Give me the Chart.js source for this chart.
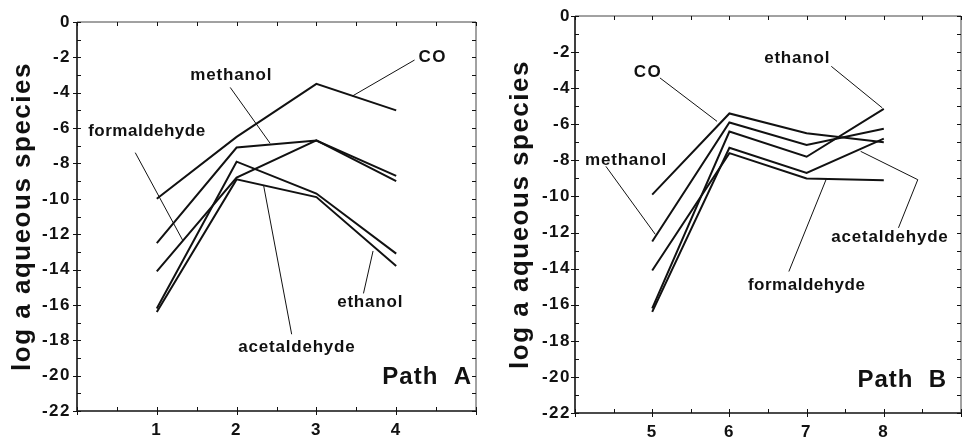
<!DOCTYPE html>
<html>
<head>
<meta charset="utf-8">
<script src="https://cdn.jsdelivr.net/npm/chart.js@4/dist/chart.umd.min.js"></script>
<style>
  html, body { margin: 0; padding: 0; background: #fff; }
  #wrap { position: relative; width: 970px; height: 440px; }
  .panel { position: absolute; top: 0; height: 440px; }
  #pathA { left: 0; width: 485px; }
  #pathB { left: 490px; width: 480px; }
</style>
</head>
<body>
<div id="wrap">
  <div class="panel" id="pathA"><canvas id="cA"></canvas></div>
  <div class="panel" id="pathB"><canvas id="cB"></canvas></div>
</div>
<script>
// Reaction path steps
const stepsA = [1, 2, 3, 4];
const stepsB = [5, 6, 7, 8];

// log activity of aqueous species along Path A
const coA           = [-10.0, -6.5, -3.5, -5.0];
const methanolA     = [-12.5, -7.1, -6.7, -8.7];
const formaldehydeA = [-14.1, -8.8, -6.7, -9.0];
const ethanolA      = [-16.2, -7.9, -9.7, -13.1];
const acetaldehydeA = [-16.4, -8.9, -9.9, -13.8];

// log activity of aqueous species along Path B
const coB           = [-9.9, -5.4, -6.5, -7.0];
const methanolB     = [-12.5, -5.9, -7.15, -6.25];
const formaldehydeB = [-14.1, -7.6, -9.0, -9.1];
const ethanolB      = [-16.2, -6.4, -7.8, -5.15];
const acetaldehydeB = [-16.4, -7.3, -8.7, -6.8];

// Axis tick labels
const yTickValues = [0, -2, -4, -6, -8, -10, -12, -14, -16, -18, -20, -22];
const xTicksA = ['1', '2', '3', '4'];
const xTicksB = ['5', '6', '7', '8'];

const FONT = '"Liberation Sans", Arial, Helvetica, sans-serif';
const INK = '#111';

function toPoints(xs, ys) { return xs.map((x, i) => ({ x: x, y: ys[i] })); }

function series(name, xs, ys) {
  return {
    label: name,
    data: toPoints(xs, ys),
    borderColor: INK,
    borderWidth: 2,
    pointRadius: 0,
    tension: 0,
    fill: false
  };
}

// Slightly spaced lettering for the axis text
const spacing = {
  id: 'spacing',
  beforeDraw(chart) {
    if ('letterSpacing' in chart.ctx) chart.ctx.letterSpacing = '1.5px';
  }
};

// Frame with inward ticks on all four sides, leader lines and labels
const decorations = {
  id: 'decorations',
  afterDatasetsDraw(chart, args, opts) {
    const ctx = chart.ctx;
    const a = chart.chartArea;
    const xs = chart.scales.x, ys = chart.scales.y;
    ctx.save();
    // frame
    ctx.strokeStyle = INK;
    ctx.lineWidth = 1.6;
    ctx.beginPath();
    ctx.moveTo(a.left, a.top); ctx.lineTo(a.left, a.bottom); ctx.lineTo(a.right, a.bottom);
    ctx.stroke();
    ctx.strokeStyle = '#444';
    ctx.lineWidth = 1;
    ctx.beginPath();
    ctx.moveTo(a.left, a.top); ctx.lineTo(a.right, a.top); ctx.lineTo(a.right, a.bottom);
    ctx.stroke();
    // y ticks every unit, labelled ones cross the axis
    ctx.strokeStyle = INK;
    ctx.lineWidth = 1;
    for (let v = ys.max; v >= ys.min; v -= 1) {
      const p = Math.round(ys.getPixelForValue(v)) + 0.5;
      const major = v % 2 === 0;
      ctx.beginPath();
      ctx.moveTo(a.left - (major ? 4 : 0), p); ctx.lineTo(a.left + 4, p);
      ctx.moveTo(a.right, p); ctx.lineTo(a.right - 4, p);
      ctx.stroke();
    }
    // x ticks every half unit
    for (let v = xs.min; v <= xs.max + 1e-9; v += 0.5) {
      const p = Math.round(xs.getPixelForValue(v)) + 0.5;
      const major = Math.abs(v - Math.round(v)) < 1e-9;
      ctx.beginPath();
      ctx.moveTo(p, a.bottom + (major ? 4 : 0)); ctx.lineTo(p, a.bottom - 4);
      ctx.moveTo(p, a.top); ctx.lineTo(p, a.top + 4);
      ctx.stroke();
    }
    // leader lines
    ctx.lineWidth = 1;
    ctx.strokeStyle = INK;
    (opts.leaders || []).forEach(path => {
      ctx.beginPath();
      path.forEach((pt, i) => {
        const px = xs.getPixelForValue(pt[0]), py = ys.getPixelForValue(pt[1]);
        if (i === 0) ctx.moveTo(px, py); else ctx.lineTo(px, py);
      });
      ctx.stroke();
    });
    // labels
    ctx.fillStyle = INK;
    ctx.textBaseline = 'middle';
    (opts.labels || []).forEach(l => {
      ctx.font = 'bold ' + l.size + 'px ' + FONT;
      ctx.textAlign = l.align || 'left';
      if ('letterSpacing' in ctx) ctx.letterSpacing = (l.spacing || 0) + 'px';
      ctx.fillText(l.text, xs.getPixelForValue(l.x), ys.getPixelForValue(l.y));
    });
    ctx.restore();
  }
};

function makeChart(canvasId, cfg) {
  const tickFont = { family: FONT, size: 17, weight: 'bold' };
  return new Chart(document.getElementById(canvasId), {
    type: 'line',
    data: { datasets: cfg.datasets },
    options: {
      responsive: true,
      maintainAspectRatio: false,
      animation: false,
      layout: { padding: { top: cfg.padTop, right: cfg.padRight, left: 0, bottom: 0 } },
      plugins: {
        legend: { display: false },
        tooltip: { enabled: false },
        decorations: { leaders: cfg.leaders, labels: cfg.labels }
      },
      scales: {
        x: {
          type: 'linear',
          min: cfg.xMin, max: cfg.xMax,
          grid: { display: false, drawTicks: false, tickLength: 0 },
          border: { display: false },
          ticks: {
            stepSize: 1,
            autoSkip: false,
            maxRotation: 0,
            padding: 9,
            color: INK,
            font: tickFont,
            callback: v => {
              const i = cfg.steps.indexOf(v);
              return i >= 0 ? cfg.xTicks[i] : '';
            }
          },
          afterFit: s => { s.height = cfg.xHeight; }
        },
        y: {
          type: 'linear',
          min: -22, max: 0,
          grid: { display: false, drawTicks: false, tickLength: 0 },
          border: { display: false },
          afterBuildTicks: s => { s.ticks = yTickValues.map(v => ({ value: v })); },
          ticks: {
            padding: cfg.yPad,
            color: INK,
            font: tickFont,
            callback: v => String(v)
          },
          title: {
            display: true,
            text: 'log a aqueous species',
            color: INK,
            font: { family: FONT, size: 26, weight: 'bold' },
            padding: { top: cfg.titlePad, bottom: 0 }
          },
          afterFit: s => { s.width = cfg.yWidth; }
        }
      }
    },
    plugins: [spacing, decorations]
  });
}

makeChart('cA', {
  steps: stepsA, xTicks: xTicksA, xMin: 0, xMax: 5,
  padTop: 22, padRight: 9, xHeight: 29, yWidth: 77, yPad: 6, titlePad: 7,
  datasets: [
    series('CO', stepsA, coA),
    series('methanol', stepsA, methanolA),
    series('formaldehyde', stepsA, formaldehydeA),
    series('ethanol', stepsA, ethanolA),
    series('acetaldehyde', stepsA, acetaldehydeA)
  ],
  leaders: [
    [[4.23, -2.15], [3.45, -4.19]],
    [[1.92, -3.7], [2.42, -6.86]],
    [[0.73, -7.39], [1.33, -12.39]],
    [[2.69, -17.66], [2.34, -9.28]],
    [[3.59, -15.35], [3.71, -12.95]]
  ],
  labels: [
    { text: 'CO', x: 4.28, y: -2.0, size: 17, spacing: 1.5 },
    { text: 'methanol', x: 1.42, y: -3.02, size: 17, spacing: 0.8 },
    { text: 'formaldehyde', x: 0.14, y: -6.18, size: 17, spacing: 0.5 },
    { text: 'acetaldehyde', x: 2.02, y: -18.37, size: 17, spacing: 0.8 },
    { text: 'ethanol', x: 3.26, y: -15.85, size: 17, spacing: 0.8 },
    { text: 'Path  A', x: 4.95, y: -20.1, size: 24, align: 'right', spacing: 1 }
  ]
});

makeChart('cB', {
  steps: stepsB, xTicks: xTicksB, xMin: 4, xMax: 9,
  padTop: 16, padRight: 1, xHeight: 27, yWidth: 85, yPad: 4, titlePad: 15,
  datasets: [
    series('CO', stepsB, coB),
    series('methanol', stepsB, methanolB),
    series('formaldehyde', stepsB, formaldehydeB),
    series('ethanol', stepsB, ethanolB),
    series('acetaldehyde', stepsB, acetaldehydeB)
  ],
  leaders: [
    [[5.10, -3.43], [5.84, -5.84]],
    [[4.40, -8.33], [5.04, -12.1]],
    [[7.32, -2.79], [7.98, -5.09]],
    [[8.19, -11.74], [8.44, -9.07], [7.70, -7.5]],
    [[6.77, -14.16], [7.26, -8.98]]
  ],
  labels: [
    { text: 'CO', x: 4.76, y: -3.11, size: 17, spacing: 1.5 },
    { text: 'methanol', x: 4.13, y: -8.02, size: 17, spacing: 0.8 },
    { text: 'ethanol', x: 6.45, y: -2.32, size: 17, spacing: 0.8 },
    { text: 'acetaldehyde', x: 7.32, y: -12.29, size: 17, spacing: 0.8 },
    { text: 'formaldehyde', x: 6.24, y: -14.9, size: 17, spacing: 0.5 },
    { text: 'Path  B', x: 8.82, y: -20.17, size: 24, align: 'right', spacing: 1 }
  ]
});
</script>
</body>
</html>
